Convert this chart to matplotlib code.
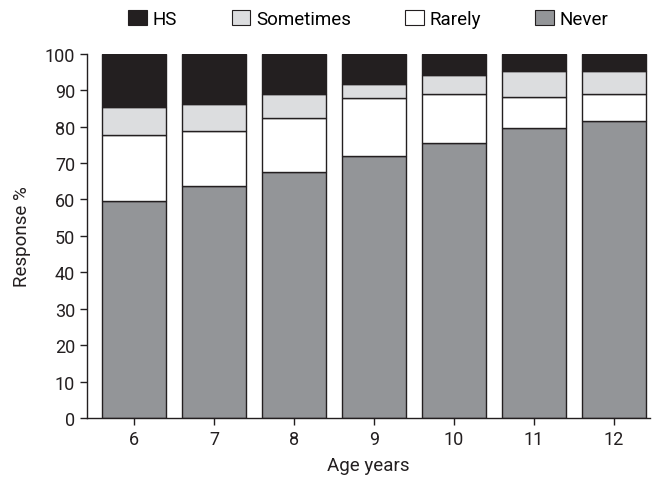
import matplotlib
matplotlib.use("Agg")
import matplotlib.pyplot as plt
from matplotlib.patches import Patch
import numpy as np

ages = [6, 7, 8, 9, 10, 11, 12]
never = [59.7, 63.6, 67.5, 71.9, 75.5, 79.5, 81.5]
rarely = [17.9, 15.3, 15.0, 16.1, 13.4, 8.7, 7.4]
sometimes = [7.7, 7.3, 6.4, 3.7, 5.2, 7.0, 6.3]
hs = [14.7, 13.8, 11.1, 8.3, 5.9, 4.8, 4.8]

plt.rcParams['font.family'] = ['Roboto', 'DejaVu Sans']
plt.rcParams['font.size'] = 13

fig = plt.figure(figsize=(6.64, 4.81), dpi=100)
ax = fig.add_axes([0.131, 0.129, 0.848, 0.757])

series = [
    ("Never", never, "#939598"),
    ("Rarely", rarely, "#ffffff"),
    ("Sometimes", sometimes, "#dcdddf"),
    ("HS", hs, "#231f20"),
]
bottom = np.zeros(len(ages))
handles = {}
for name, vals, col in series:
    ax.bar(ages, vals, bottom=bottom, width=0.8, color=col,
           edgecolor="#231f20", linewidth=1.0, label=name)
    bottom += np.array(vals)
    handles[name] = Patch(facecolor=col, edgecolor="#231f20", linewidth=0.8)

ax.set_xlim(5.41, 12.45)
ax.set_ylim(0, 100)
ax.set_yticks(range(0, 101, 10))
ax.set_xticks(ages)
ax.spines['top'].set_visible(False)
ax.spines['right'].set_visible(False)
for s in ('left', 'bottom'):
    ax.spines[s].set_color("#231f20")
    ax.spines[s].set_linewidth(1.0)
ax.tick_params(axis='both', direction='out', length=5, width=1.0,
               color="#231f20", labelcolor="#231f20", labelsize=13)
ax.set_xlabel("Age years", fontsize=13.5, color="#231f20", labelpad=6)
ax.set_ylabel("Response %", fontsize=13.5, color="#231f20", labelpad=10)

order = ["HS", "Sometimes", "Rarely", "Never"]
fig.legend([handles[k] for k in order], order, loc="upper center",
           bbox_to_anchor=(0.555, 1.012), ncol=4, frameon=False,
           fontsize=13.5, handlelength=1.0, handleheight=0.8,
           handletextpad=0.3, columnspacing=2.9)

fig.savefig("out.png", dpi=100)
